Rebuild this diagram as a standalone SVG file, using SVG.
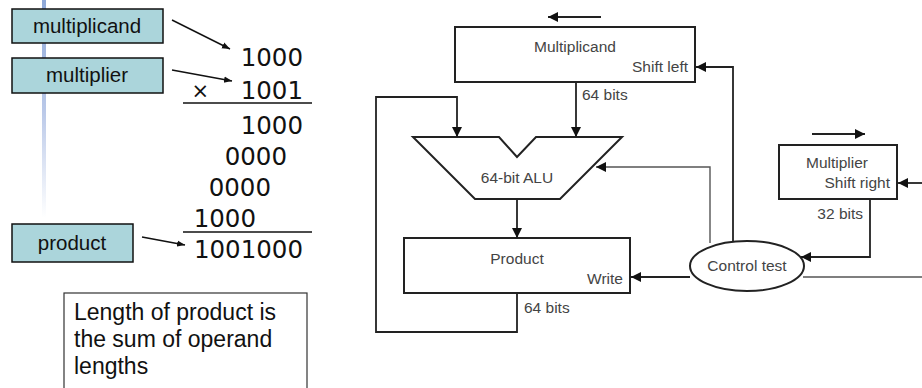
<svg xmlns="http://www.w3.org/2000/svg" width="922" height="388" viewBox="0 0 922 388">
<style>
.lbl{fill:#abd5db;stroke:#111;stroke-width:1.5}
.lt{font-family:"Liberation Sans",Arial,sans-serif;font-size:20.5px;fill:#111;text-anchor:middle}
.num{font-family:"DejaVu Sans",Verdana,sans-serif;font-size:24.5px;fill:#111;text-anchor:end}
.blk{fill:#fff;stroke:#222;stroke-width:2}
.dt{font-family:"Liberation Sans",Arial,sans-serif;font-size:15.5px;fill:#444}
.ln{fill:none;stroke:#222;stroke-width:1.8}
.tn{fill:none;stroke:#555;stroke-width:1.4}
</style>
<defs>
<linearGradient id="bar" x1="0" y1="0" x2="0" y2="1">
<stop offset="0" stop-color="#8ea8d8"/>
<stop offset="0.5" stop-color="#b9c8e8"/>
<stop offset="1" stop-color="#ffffff"/>
</linearGradient>
<marker id="ah" viewBox="0 0 10 10" refX="10" refY="5" markerWidth="10" markerHeight="10" markerUnits="userSpaceOnUse" orient="auto">
<path d="M0,0 L10,5 L0,10 z" fill="#111"/>
</marker>
<marker id="ahs" viewBox="0 0 10 10" refX="10" refY="5" markerWidth="8" markerHeight="8" markerUnits="userSpaceOnUse" orient="auto">
<path d="M0,1 L10,5 L0,9 z" fill="#111"/>
</marker>
</defs>
<rect x="0" y="0" width="922" height="388" fill="#fff"/>
<rect x="42" y="0" width="4" height="218" fill="url(#bar)"/>

<g id="multiplicand-label"><rect class="lbl" x="12" y="9" width="151" height="34"/><text class="lt" x="87" y="33">multiplicand</text></g>
<g id="multiplier-label"><rect class="lbl" x="12" y="58" width="151" height="35"/><text class="lt" x="87" y="82">multiplier</text></g>
<g id="product-label"><rect class="lbl" x="12" y="224" width="121" height="38"/><text class="lt" x="72" y="250">product</text></g>

<g id="calc">
<text class="num" x="303" y="66">1000</text>
<text class="num" x="303" y="99">1001</text>
<text class="num" x="209" y="98" style="font-size:21px">×</text>
<line x1="183" y1="103" x2="312" y2="103" stroke="#111" stroke-width="1.3"/>
<text class="num" x="303" y="134">1000</text>
<text class="num" x="287" y="165">0000</text>
<text class="num" x="271" y="196">0000</text>
<text class="num" x="256" y="227">1000</text>
<line x1="183" y1="232" x2="312" y2="232" stroke="#111" stroke-width="1.3"/>
<text class="num" x="303" y="258">1001000</text>
</g>

<g id="note"><rect x="64" y="293" width="243" height="100" fill="#fff" stroke="#333" stroke-width="1.2"/>
<text font-family="Liberation Sans, Arial, sans-serif" font-size="23" fill="#111"><tspan x="74" y="320">Length of product is</tspan><tspan x="74" y="347">the sum of operand</tspan><tspan x="74" y="374">lengths</tspan></text></g>

<g id="multiplicand-reg"><rect class="blk" x="455" y="27" width="240" height="55"/><text class="dt" x="575" y="52" text-anchor="middle">Multiplicand</text><text class="dt" x="688" y="72" text-anchor="end">Shift left</text></g>
<g id="alu"><path class="blk" d="M413,137 L499,137 L517,157 L536,137 L622,137 L560,199 L475,199 Z"/><text class="dt" x="517" y="183" text-anchor="middle">64-bit ALU</text></g>
<g id="product-reg"><rect class="blk" x="404" y="238" width="226" height="55"/><text class="dt" x="517" y="264" text-anchor="middle">Product</text><text class="dt" x="623" y="284" text-anchor="end">Write</text></g>
<g id="multiplier-reg"><rect class="blk" x="779" y="145" width="118" height="54"/><text class="dt" x="806" y="168">Multiplier</text><text class="dt" x="890" y="188" text-anchor="end">Shift right</text></g>
<g id="control"><ellipse class="blk" cx="747" cy="266" rx="57" ry="25"/><text class="dt" x="747" y="271" text-anchor="middle">Control test</text></g>

<g id="connectors">
<line x1="172" y1="20" x2="230" y2="49" stroke="#111" stroke-width="1.5" marker-end="url(#ahs)"/>
<line x1="172" y1="70" x2="232" y2="81" stroke="#111" stroke-width="1.5" marker-end="url(#ahs)"/>
<line x1="142" y1="237" x2="185" y2="245" stroke="#111" stroke-width="1.5" marker-end="url(#ahs)"/>
<line class="ln" x1="601" y1="17" x2="548" y2="17" marker-end="url(#ah)"/>
<line class="ln" x1="812" y1="134" x2="865" y2="134" marker-end="url(#ah)"/>
<line class="ln" x1="576" y1="82" x2="576" y2="137" marker-end="url(#ah)"/>
<path class="ln" d="M517,293 L517,332 L376,332 L376,97 L457,97 L457,137" marker-end="url(#ah)"/>
<line class="ln" x1="517" y1="199" x2="517" y2="238" marker-end="url(#ah)"/>
<path class="tn" d="M710,243 L710,167 L596,167" marker-end="url(#ah)"/>
<path class="ln" d="M733,242 L733,67 L696,67" marker-end="url(#ah)"/>
<line class="ln" x1="690" y1="277" x2="631" y2="277" marker-end="url(#ah)"/>
<path class="ln" d="M870,199 L870,257 L801,257" marker-end="url(#ah)"/>
<line class="tn" x1="803" y1="277" x2="922" y2="277"/>
<line class="ln" x1="922" y1="183" x2="898" y2="183" marker-end="url(#ah)"/>
<text class="dt" x="582" y="100">64 bits</text>
<text class="dt" x="524" y="313">64 bits</text>
<text class="dt" x="863" y="219" text-anchor="end">32 bits</text>
</g>
</svg>
